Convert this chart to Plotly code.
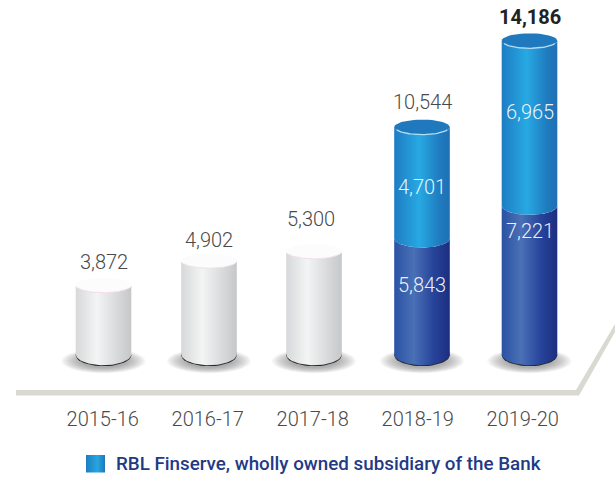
import numpy as np
import plotly.graph_objects as go

# Bank-level series, in the order the columns are drawn
years = ["2015-16", "2016-17", "2017-18", "2018-19", "2019-20"]
totals = [3872, 4902, 5300, 10544, 14186]
bank_part = [None, None, None, 5843, 7221]
finserve_part = [None, None, None, 4701, 6965]
total_labels = ["3,872", "4,902", "5,300", "10,544", "14,186"]
legend_text = "RBL Finserve, wholly owned subsidiary of the Bank"

# Page and scale set-up
W, H = 615, 477
X0_PX, X_STEP_PX = 103.5, 106.5      # first column centre and average spacing
Y0_PX, Y_SCALE = 377.0, 0.0237       # pixel row of value 0, pixels per unit
BASE_VALUE = 928                     # columns stand on a truncated floor
HALF_W = 27.8                        # column half width, pixels
TOP_RY, MID_RY, BOT_RY = 7.5, 9.0, 11.0

x_range = [(0 - X0_PX) / X_STEP_PX, (W - X0_PX) / X_STEP_PX]
y_range = [(Y0_PX - H) / Y_SCALE, Y0_PX / Y_SCALE]


def dx(px):
    return px / X_STEP_PX


def dy(px):
    return px / Y_SCALE


def to_x(px):
    return (px - X0_PX) / X_STEP_PX


def to_y(px):
    return (Y0_PX - px) / Y_SCALE


# Columns are hand-spaced on the page rather than perfectly even
COLUMN_X = [to_x(p) for p in (103.5, 209, 314, 422, 529.5)]
TOTAL_LABEL_X = [to_x(p) for p in (104, 209, 311, 422, 530)]
TICK_X = [to_x(102.7 + 105 * k) for k in range(5)]


def arc(cx, cy, rx_px, ry_px, a0, a1, n=48):
    t = np.linspace(a0, a1, n)
    return cx + dx(rx_px) * np.cos(t), cy + dy(ry_px) * np.sin(t)


def body(cx, bottom, top, bottom_ry, top_ry):
    """Closed outline of a cylinder section, curved along both ends."""
    xb, yb = arc(cx, bottom, HALF_W, bottom_ry, np.pi, 2 * np.pi)
    xt, yt = arc(cx, top, HALF_W, top_ry, 0, np.pi)
    return np.r_[xb, xt, xb[0]], np.r_[yb, yt, yb[0]]


def polygon(x, y, gradient=None, colour=None):
    kw = dict(x=x, y=y, mode="lines", line=dict(width=0), fill="toself",
              hoverinfo="skip", showlegend=False)
    if gradient:
        kw["fillgradient"] = dict(type="horizontal", colorscale=gradient)
        kw["fillcolor"] = "rgba(0,0,0,0)"
    else:
        kw["fillcolor"] = colour
    return go.Scatter(**kw)


WHITE_BODY = [[0, "#d7d8d9"], [0.38, "#f3f4f4"], [0.75, "#d8d9db"], [1, "#c6c7c9"]]
BLUE_BODY = [[0, "#1e7cc2"], [0.45, "#27a9e3"], [0.8, "#1f7dc0"], [1, "#1f6fb4"]]
NAVY_BODY = [[0, "#2a52a3"], [0.35, "#4a70b6"], [0.7, "#27449a"], [1, "#1c2e80"]]
SWATCH = [[0, "#1c7cc0"], [0.6, "#27a6e0"], [1, "#1e78bc"]]

fig = go.Figure()

for i, total in enumerate(totals):
    c = COLUMN_X[i]

    # soft floor shadow, built from nested translucent ellipses
    for scale in np.linspace(1.03, 0.55, 16):
        sx, sy = arc(c, to_y(361), 41 * scale, 12 * scale, 0, 2 * np.pi)
        fig.add_trace(polygon(sx, sy, colour="rgba(110,110,110,0.05)"))

    # dark rim where the column meets the floor
    rx, ry = arc(c, to_y(355.2), HALF_W, BOT_RY, 0, 2 * np.pi)
    fig.add_trace(polygon(rx, ry, colour="#2a2a2a"))

    if bank_part[i] is None:
        x, y = body(c, BASE_VALUE + dy(0.8), total, BOT_RY, -TOP_RY)
        fig.add_trace(polygon(x, y, gradient=WHITE_BODY))
        tx, ty = arc(c, total, HALF_W, TOP_RY, 0, 2 * np.pi)
        fig.add_trace(polygon(tx, ty, colour="#fcfcfc"))
        cx, cy = arc(c, total, HALF_W - 0.5, TOP_RY, np.pi * 1.12, np.pi * 1.88)
        fig.add_trace(go.Scatter(x=cx, y=cy, mode="lines", hoverinfo="skip", showlegend=False,
                                 line=dict(color="rgba(240,215,225,0.8)", width=1)))
    else:
        x, y = body(c, BASE_VALUE + dy(0.8), bank_part[i], BOT_RY, -MID_RY)
        fig.add_trace(polygon(x, y, gradient=NAVY_BODY))
        x, y = body(c, bank_part[i], total, MID_RY, -TOP_RY)
        fig.add_trace(polygon(x, y, gradient=BLUE_BODY))
        tx, ty = arc(c, total, HALF_W, TOP_RY, 0, 2 * np.pi)
        fig.add_trace(polygon(tx, ty, colour="#2179bd"))
        cx, cy = arc(c, total, HALF_W - 0.5, TOP_RY, np.pi * 1.12, np.pi * 1.88)
        fig.add_trace(go.Scatter(x=cx, y=cy, mode="lines", hoverinfo="skip", showlegend=False,
                                 line=dict(color="rgba(190,228,248,0.9)", width=1.3)))

# legend swatch
fig.add_trace(polygon(
    [to_x(86), to_x(105), to_x(105), to_x(86), to_x(86)],
    [to_y(455), to_y(455), to_y(472.5), to_y(472.5), to_y(455)],
    gradient=SWATCH,
))

# floor slab running along the columns and turning up at the right
slab = (f"M {to_x(16)} {to_y(390)} L {to_x(576)} {to_y(390)} L {to_x(615)} {to_y(324)} "
        f"L {to_x(615)} {to_y(332)} L {to_x(579)} {to_y(395.6)} L {to_x(16)} {to_y(395.6)} Z")
shapes = [dict(type="path", path=slab, xref="x", yref="y", fillcolor="#d9d9d2",
               line=dict(width=0), layer="below")]

# column totals sit just above each lid
TOTAL_LIFT_PX = [23, 21, 32, 25, 24]
LIGHT = dict(family="Roboto", size=20, weight=300)
annotations = []
for i, total in enumerate(totals):
    bold = i == len(totals) - 1
    annotations.append(dict(
        x=TOTAL_LABEL_X[i], y=total, xref="x", yref="y", yshift=TOTAL_LIFT_PX[i], showarrow=False,
        text=total_labels[i],
        font=dict(family="Roboto", size=20, weight=700 if bold else 300,
                  color="#222222" if bold else "#4a4a4a"),
    ))

# section figures inside the two stacked columns
SECTION_ROWS = {3: (285, 187), 4: (231, 112)}
for i, (lower_row, upper_row) in SECTION_ROWS.items():
    for row, val in ((lower_row, bank_part[i]), (upper_row, finserve_part[i])):
        annotations.append(dict(
            x=COLUMN_X[i], y=to_y(row), xref="x", yref="y", showarrow=False, text=f"{val:,}",
            font=dict(color="rgba(255,255,255,0.92)", **LIGHT),
        ))

annotations.append(dict(
    x=to_x(113.5), y=to_y(463.5), xref="x", yref="y", xanchor="left", showarrow=False,
    text=legend_text,
    font=dict(family="Roboto", size=18.8, weight=500, color="#1f3a86"),
))

fig.update_layout(
    width=W, height=H, margin=dict(l=0, r=0, t=0, b=0),
    paper_bgcolor="white", plot_bgcolor="white", showlegend=False,
    shapes=shapes, annotations=annotations,
    xaxis=dict(range=x_range, tickmode="array", tickvals=TICK_X, ticktext=years,
               showgrid=False, zeroline=False, showline=False, ticks="outside", ticklen=5,
               tickcolor="rgba(0,0,0,0)", fixedrange=True,
               anchor="free", position=(H - 396) / H,
               tickfont=dict(color="#4a4a4a", **LIGHT)),
    yaxis=dict(range=y_range, visible=False, fixedrange=True),
)

fig.write_html("out.html", config=dict(displayModeBar=False))
